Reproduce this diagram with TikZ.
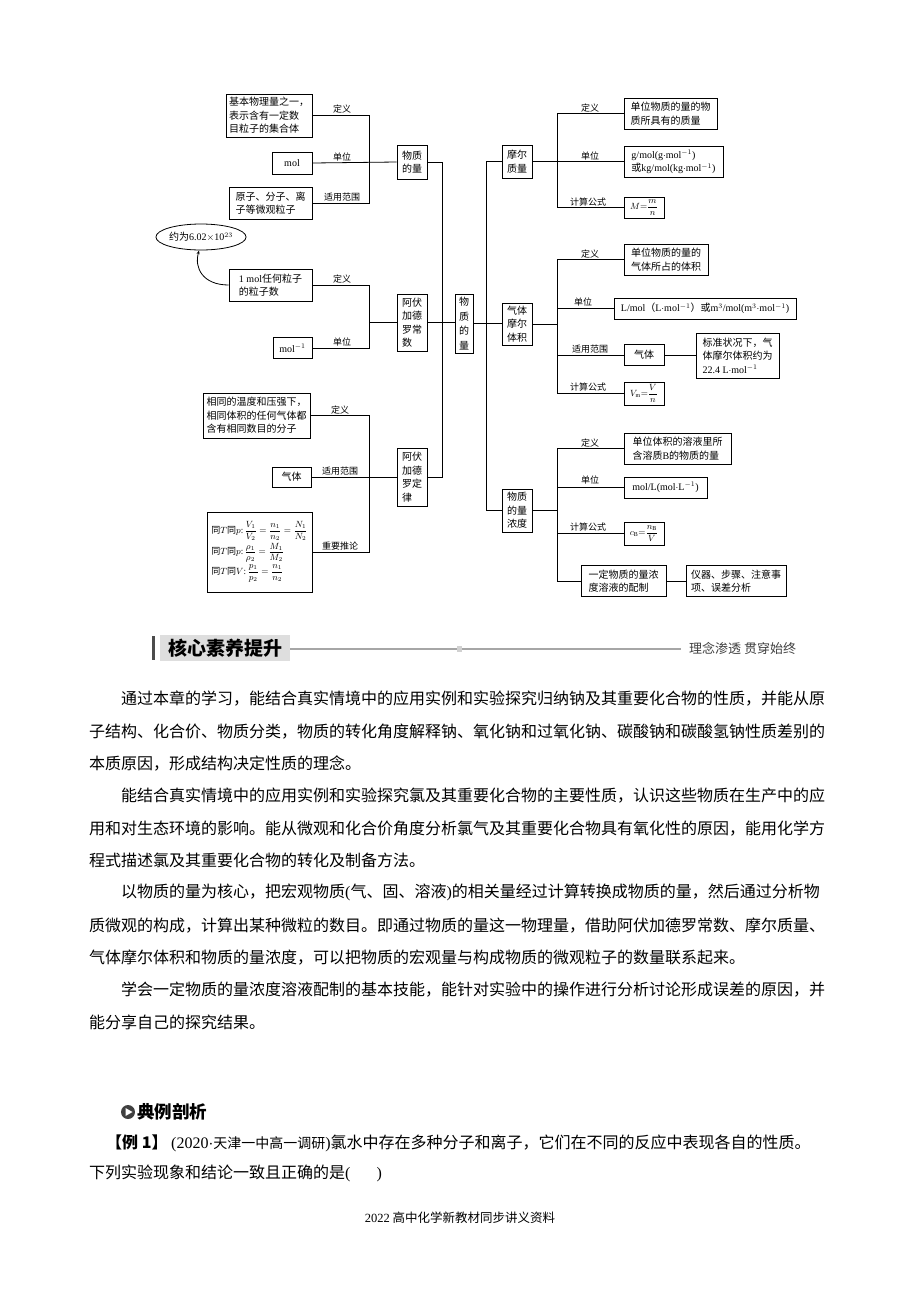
\documentclass[tikz,border=0pt]{standalone}
\usepackage{fontspec}
\setmainfont{Liberation Serif}
\newfontfamily\cjk{Noto Sans CJK SC}
\usetikzlibrary{shapes.geometric,arrows.meta,calc}
\newcommand\dgfont{\cjk\fontsize{10}{13.5}\selectfont}
\newcommand\lbfont{\cjk\fontsize{9}{10}\selectfont}
\newcommand\bdfont{\cjk\fontsize{16}{18}\selectfont}
\newcommand\la[1]{{\rmfamily #1}}
\newcommand\dfr[2]{{\displaystyle\frac{#1}{#2}}}
\begin{document}
\begin{tikzpicture}[x=1pt,y=-1pt,
  box/.style={draw, line width=0.8pt, inner xsep=3pt, inner ysep=2pt, align=left, font=\dgfont},
  fbox/.style={box, inner ysep=0.5pt, font=\fontsize{9}{10}\selectfont},
  lab/.style={inner sep=0pt, font=\lbfont},
  ln/.style={line width=0.8pt},
  body/.style={anchor=west, inner sep=0pt, font=\bdfont}]
\useasboundingbox[fill=white] (0,0) rectangle (920,1302);

% ---------- left group 1 ----------
\node[box, minimum width=86, minimum height=43] (b1) at (269,115.5) {基本物理量之一，\\表示含有一定数\\目粒子的集合体};
\node[box, minimum width=40, minimum height=22] (mol) at (292,163) {\la{mol}};
\node[box, minimum width=83, minimum height=32] (b3) at (270.5,203) {原子、分子、离\\子等微观粒子};
\node[box, minimum width=30, minimum height=34] (wzl) at (412,162) {物质\\的量};
\draw[ln] (b1.east) -- (369,115.5) |- (b3.east);
\draw[ln] (mol.east) -- (wzl.west);
\node[lab] (l11) at (342,109) {定义};
\node[lab] (l12) at (342,157) {单位};
\node[lab] (l13) at (342,197) {适用范围};

% ---------- left group 2 ----------
\node[draw, ellipse, line width=0.8pt, minimum width=86, minimum height=26, inner sep=0pt, font=\dgfont] (ell) at (201,237) {约为\la{6.02$\times$10$^{23}$}};
\node[box, minimum width=83, minimum height=32] (a1) at (270.5,285) {\la{1 mol}任何粒子\\的粒子数};
\node[box, minimum width=39, minimum height=21] (a2) at (292.5,348) {\la{mol$^{-1}$}};
\node[box, minimum width=30, minimum height=57] (adc) at (412,322.5) {阿伏\\加德\\罗常\\数};
\coordinate (j2) at (369,322.5);
\draw[ln] (a1.east) -- (369,285) |- (a2.east);
\draw[ln] (j2) -- (adc.west);
\draw[ln, -{Stealth[length=4pt,width=3pt]}] (a1.west) .. controls (203,285) and (194,268) .. (ell.262);
\node[lab] (l21) at (342,279) {定义};
\node[lab] (l22) at (342,342) {单位};

% ---------- left group 3 ----------
\node[box, minimum width=107, minimum height=45] (c1) at (256.5,415.5) {相同的温度和压强下，\\相同体积的任何气体都\\含有相同数目的分子};
\node[box, minimum width=39, minimum height=20] (c2) at (291.5,477) {气体};
\node[box, minimum width=105, minimum height=80, inner xsep=3pt, inner ysep=1pt, font=\fontsize{9}{10}\selectfont] (c3) at (259.5,552) {{\cjk 同}$T${\cjk 同}$p$:\,$\dfr{V_1}{V_2}=\dfr{n_1}{n_2}=\dfr{N_1}{N_2}$\\[1pt]{\cjk 同}$T${\cjk 同}$p$:\,$\dfr{\rho_1}{\rho_2}=\dfr{M_1}{M_2}$\\[1pt]{\cjk 同}$T${\cjk 同}$V$:\,$\dfr{p_1}{p_2}=\dfr{n_1}{n_2}$};
\node[box, minimum width=30, minimum height=58] (adl) at (412,477) {阿伏\\加德\\罗定\\律};
\draw[ln] (c1.east) -- (369,415.5) |- (c3.east);
\draw[ln] (c2.east) -- (adl.west);
\node[lab] (l31) at (340,410) {定义};
\node[lab] (l32) at (340,471) {适用范围};
\node[lab] (l33) at (340,546) {重要推论};

% ---------- central spine ----------
\node[box, minimum width=18, minimum height=59, inner xsep=4pt, font=\cjk\fontsize{10}{14.5}\selectfont] (ctr) at (464,323.5) {物\\质\\的\\量};
\draw[ln] (wzl.east) -- (442,162) |- (adl.east);
\draw[ln] (adc.east) -- (adc.east -| ctr.west);

% ---------- right nodes ----------
\node[box, minimum width=30, minimum height=33] (mezl) at (517,161.5) {摩尔\\质量};
\node[box, minimum width=30, minimum height=42] (qt) at (517,324) {气体\\摩尔\\体积};
\node[box, minimum width=30, minimum height=43] (nd) at (517,510.5) {物质\\的量\\浓度};
\draw[ln] (mezl.west) -- (486,161.5) |- (nd.west);
\draw[ln] (ctr.east) -- (ctr.east -| qt.west);

% right group 1
\node[box, minimum width=93, minimum height=31] (r1a) at (670.5,113.5) {单位物质的量的物\\质所具有的质量};
\node[box, minimum width=99, minimum height=31] (r1b) at (673.5,162) {\la{g/mol(g$\cdot$mol$^{-1}$)}\\或\la{kg/mol(kg$\cdot$mol$^{-1}$)}};
\node[fbox, minimum width=40, minimum height=21] (r1c) at (644,207.5) {$M{=}\dfr{m}{n}$};
\draw[ln] (r1a.west) -- (557,113.5) |- (r1c.west);
\draw[ln] (mezl.east) -- (mezl.east -| r1b.west);
\node[lab] (m11) at (590,108) {定义};
\node[lab] (m12) at (590,156) {单位};
\node[lab] (m13) at (588,202) {计算公式};

% right group 2
\node[box, minimum width=84, minimum height=31] (r2a) at (666,259.5) {单位物质的量的\\气体所占的体积};
\node[box, minimum width=182, minimum height=21] (r2b) at (705,308.5) {\la{L/mol}（\la{L$\cdot$mol$^{-1}$}）或\la{m$^3$/mol(m$^3\cdot$mol$^{-1}$)}};
\node[box, minimum width=40, minimum height=21] (r2c) at (644,355) {气体};
\node[box, minimum width=83, minimum height=45] (r2d) at (737.5,355.5) {标准状况下，气\\体摩尔体积约为\\\la{22.4 L$\cdot$mol$^{-1}$}};
\node[fbox, minimum width=40, minimum height=23] (r2e) at (644,393.5) {$V_{\mathrm m}{=}\dfr{V}{n}$};
\coordinate (k2q) at (557,324);
\coordinate (k2b) at (557,308.5);
\coordinate (k2c) at (557,355);
\draw[ln] (r2a.west) -- (557,259.5) |- (r2e.west);
\draw[ln] (qt.east) -- (k2q);
\draw[ln] (k2b) -- (r2b.west);
\draw[ln] (k2c) -- (r2c.west);
\draw[ln] (r2c.east) -- (r2c.east -| r2d.west);
\node[lab] (m21) at (590,254) {定义};
\node[lab] (m22) at (583,302) {单位};
\node[lab] (m23) at (590,349) {适用范围};
\node[lab] (m24) at (588,387) {计算公式};

% right group 3
\node[box, minimum width=107, minimum height=31] (r3a) at (677.5,448.5) {单位体积的溶液里所\\含溶质\la{B}的物质的量};
\node[box, minimum width=83, minimum height=21] (r3b) at (665.5,487.5) {\la{mol/L(mol$\cdot$L$^{-1}$)}};
\node[fbox, minimum width=40, minimum height=23] (r3c) at (644,533.5) {$c_{\mathrm B}{=}\dfr{n_{\mathrm B}}{V}$};
\node[box, minimum width=85, minimum height=31] (r3d) at (623.5,581) {一定物质的量浓\\度溶液的配制};
\node[box, minimum width=100, minimum height=31] (r3e) at (736,581) {仪器、步骤、注意事\\项、误差分析};
\coordinate (k3n) at (557,510.5);
\coordinate (k3b) at (557,487.5);
\coordinate (k3c) at (557,533.5);
\draw[ln] (r3a.west) -- (557,448.5) |- (r3d.west);
\draw[ln] (nd.east) -- (k3n);
\draw[ln] (k3b) -- (r3b.west);
\draw[ln] (k3c) -- (r3c.west);
\draw[ln] (r3d.east) -- (r3e.west);
\node[lab] (m31) at (590,443) {定义};
\node[lab] (m32) at (590,480) {单位};
\node[lab] (m33) at (588,527) {计算公式};

% ---------- section header ----------
\fill[black!70] (152,636) rectangle (154.5,660);
\node[fill=black!13, minimum width=130, minimum height=26, inner sep=0pt, font=\cjk\bfseries\fontsize{19}{20}\selectfont] (hd) at (225,648) {核心素养提升};
\coordinate (hl) at (681,649);
\draw[black!35, line width=1.3pt] (hd.east |- hl) -- (hl);
\fill[black!18] (457,645.5) rectangle (462,651.5);
\node[anchor=west, inner sep=0pt, text=black!75, font=\cjk\fontsize{13}{14}\selectfont] (hr) at (689,648) {理念渗透\ 贯穿始终};

% ---------- body text ----------
\node[body] (p1) at (121,699) {通过本章的学习，能结合真实情境中的应用实例和实验探究归纳钠及其重要化合物的性质，并能从原};
\node[body] (p2) at (89,731.3) {子结构、化合价、物质分类，物质的转化角度解释钠、氧化钠和过氧化钠、碳酸钠和碳酸氢钠性质差别的};
\node[body] (p3) at (89,763.6) {本质原因，形成结构决定性质的理念。};
\node[body] (p4) at (121,795.9) {能结合真实情境中的应用实例和实验探究氯及其重要化合物的主要性质，认识这些物质在生产中的应};
\node[body] (p5) at (89,828.2) {用和对生态环境的影响。能从微观和化合价角度分析氯气及其重要化合物具有氧化性的原因，能用化学方};
\node[body] (p6) at (89,860.5) {程式描述氯及其重要化合物的转化及制备方法。};
\node[body] (p7) at (121,892.8) {以物质的量为核心，把宏观物质\la{(}气、固、溶液\la{)}的相关量经过计算转换成物质的量，然后通过分析物};
\node[body] (p8) at (89,925.1) {质微观的构成，计算出某种微粒的数目。即通过物质的量这一物理量，借助阿伏加德罗常数、摩尔质量、};
\node[body] (p9) at (89,957.4) {气体摩尔体积和物质的量浓度，可以把物质的宏观量与构成物质的微观粒子的数量联系起来。};
\node[body] (p10) at (121,989.7) {学会一定物质的量浓度溶液配制的基本技能，能针对实验中的操作进行分析讨论形成误差的原因，并};
\node[body] (p11) at (89,1022) {能分享自己的探究结果。};

% ---------- example ----------
\node[circle, fill=black!75, minimum size=14, inner sep=0pt] (ic) at (128,1112) {};
\fill[white] ($(ic)+(-2.5,-4)$) -- ($(ic)+(4.5,0)$) -- ($(ic)+(-2.5,4)$) -- cycle;
\node[anchor=west, inner sep=0pt, font=\cjk\bfseries\fontsize{17.5}{19}\selectfont] (dl) at (137,1112) {典例剖析};
\node[body] (e1) at (106,1143) {\textbf{【例 1】}\ \la{(2020$\cdot$}{\fontsize{14}{16}\selectfont 天津一中高一调研}\la{)}氯水中存在多种分子和离子，它们在不同的反应中表现各自的性质。};
\node[body] (e2) at (89,1173) {下列实验现象和结论一致且正确的是\la{(\hspace{26pt})}};
\node[inner sep=0pt, font=\cjk\fontsize{12.5}{14}\selectfont] (ft) at (460,1218) {\la{2022} 高中化学新教材同步讲义资料};
\end{tikzpicture}
\end{document}
